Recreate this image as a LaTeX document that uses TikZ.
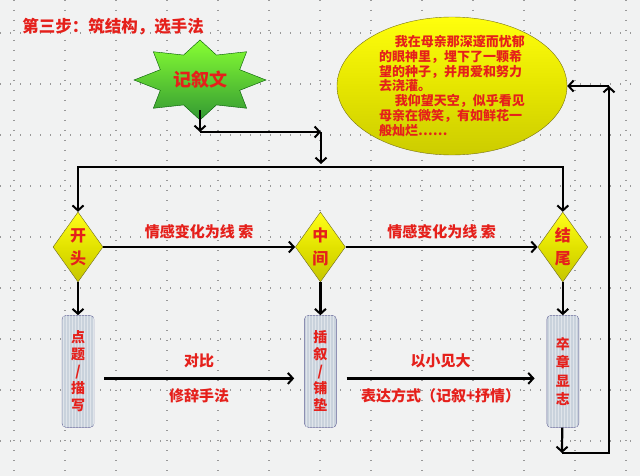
\documentclass[tikz,border=0pt]{standalone}
\usepackage{fontspec}
\newfontfamily\cjk{Noto Sans CJK SC}
\usetikzlibrary{shapes,arrows.meta,positioning,patterns}
\definecolor{rojo}{HTML}{E5201B}
\definecolor{fondo}{HTML}{F1F2F2}
\definecolor{caja}{HTML}{C9D2DC}

\begin{document}
\begin{tikzpicture}[x=1pt,y=-1pt,font=\cjk\bfseries]
 \tikzset{rombo node/.style={diamond, aspect=0.6, draw=olive!70!black, top color=yellow!90!white,
 		bottom color=yellow!55!olive, minimum width=50pt, minimum height=70pt,
 		inner sep=0pt, align=center, text=rojo,
 		font=\cjk\bfseries\fontsize{16}{23}\selectfont}, }
 \tikzset{caja node/.style={rectangle, draw=gray!80!blue, fill=caja, rounded corners=4pt,
 		postaction={pattern=vertical lines, pattern color=white!40!caja},
 		minimum width=32pt, minimum height=112pt, inner sep=0pt, align=center, text=rojo,
 		font=\cjk\bfseries\fontsize{14}{17}\selectfont}, }
 \tikzset{rotulo/.style={text=rojo, font=\cjk\bfseries\fontsize{15}{18}\selectfont}, }
 \tikzset{flecha/.style={-{Straight Barb[length=5pt,width=11pt,line width=2pt]}, line width=2.2pt},}

 % fondo y rejilla
 \fill[fondo] (0,0) rectangle (640,476);
 \useasboundingbox (0,0) rectangle (640,476);
 \foreach \x in {0,...,12}
  \draw[gray!80, line width=1.2pt, dash pattern=on 1.2pt off 8.8pt] (14+51*\x,0) -- (14+51*\x,476);
 \foreach \y in {0,...,8}
  \draw[gray!80, line width=1.2pt, dash pattern=on 1.2pt off 8.8pt] (0,33+51*\y) -- (640,33+51*\y);

 \node[text=rojo, font=\cjk\bfseries\fontsize{16.5}{18}\selectfont] (titulo) at (113,27) {第三步：筑结构，选手法};

 % estrella
 \shade[shift={(200,80)}, top color=green!45!lime!80!white, bottom color=green!50!black!80, draw=green!35!black]
  (90:40) \foreach \a in {0,...,15} {
   -- ({90+22.5*\a}:{mod(\a,2)==0 ? 66 : 43} and {mod(\a,2)==0 ? 40 : 27})
  } -- cycle;
 \node[text=rojo, font=\cjk\bfseries\fontsize{18}{20}\selectfont, minimum height=60pt] (wen) at (200,80) {记叙文};

 % elipse
 \node[ellipse, draw=olive!80!black, top color=yellow!95!white, bottom color=yellow!60!olive,
 	minimum width=230pt, minimum height=138pt] (elipse) at (452,86) {};
 \node[text=rojo, align=left, inner sep=0pt, font=\cjk\bfseries\fontsize{13}{14.7}\selectfont] (texto) at (elipse.center)
 	{\hspace*{1.2em}我在母亲那深邃而忧郁\\的眼神里，埋下了一颗希\\望的种子，并用爱和努力\\去浇灌。\\
 	\hspace*{1.2em}我仰望天空，似乎看见\\母亲在微笑，有如鲜花一\\般灿烂……};

 \node[rombo node] (kaitou) at (78,247) {开\\头};
 \node[rombo node] (zhongjian) [right=192pt of kaitou] {中\\间};
 \node[rombo node] (jiewei) [right=192pt of zhongjian] {结\\尾};

 \node[caja node] (dianti) [below=33pt of kaitou] {点\\题\\/\\描\\写};
 \node[caja node] (chaxu) [below=33pt of zhongjian] {插\\叙\\/\\铺\\垫};
 \node[caja node, font=\cjk\bfseries\fontsize{14}{18.5}\selectfont] (zhang) [below=33pt of jiewei] {卒\\章\\显\\志};

 \coordinate (c1) at (200,132);
 \coordinate (c2) at (321,132);
 \coordinate (c3) at (321,167);
 \coordinate (d1) at (562,453);
 \coordinate (d2) at (609,0);

 \draw[flecha] (wen.south) -- (c1);
 \draw[flecha] (c1) -- (c2);
 \draw[flecha, shorten >=3pt] (c2) -- (c3);
 \draw[flecha] (c3) -| (kaitou.north);
 \draw[flecha] (c3) -| (jiewei.north);

 \draw[flecha] (kaitou) -- node[rotulo, above=4pt] {情感变化为线 索} (zhongjian);
 \draw[flecha] (zhongjian) -- node[rotulo, above=4pt] {情感变化为线 索} (jiewei);
 \foreach \x/\y in {kaitou/dianti, zhongjian/chaxu, jiewei/zhang}
  \draw[flecha] (\x) -- (\y);

 \draw[flecha] ([xshift=10pt,yshift=-7pt]dianti.east) -- node[rotulo, above=6pt] {对比}
 	node[rotulo, below=6pt] {修辞手法} ([xshift=-10pt,yshift=-7pt]chaxu.west);
 \draw[flecha] ([xshift=10pt,yshift=-7pt]chaxu.east) -- node[rotulo, above=6pt] {以小见大}
 	node[rotulo, below=6pt] {表达方式（记叙+抒情）} ([xshift=-12pt,yshift=-7pt]zhang.west);

 \draw[flecha] (zhang) -- (d1);
 \draw[flecha] (d1) -| (d2 |- elipse.east);
 \draw[flecha] (d2 |- elipse.east) -- (elipse.east);
\end{tikzpicture}
\end{document}
